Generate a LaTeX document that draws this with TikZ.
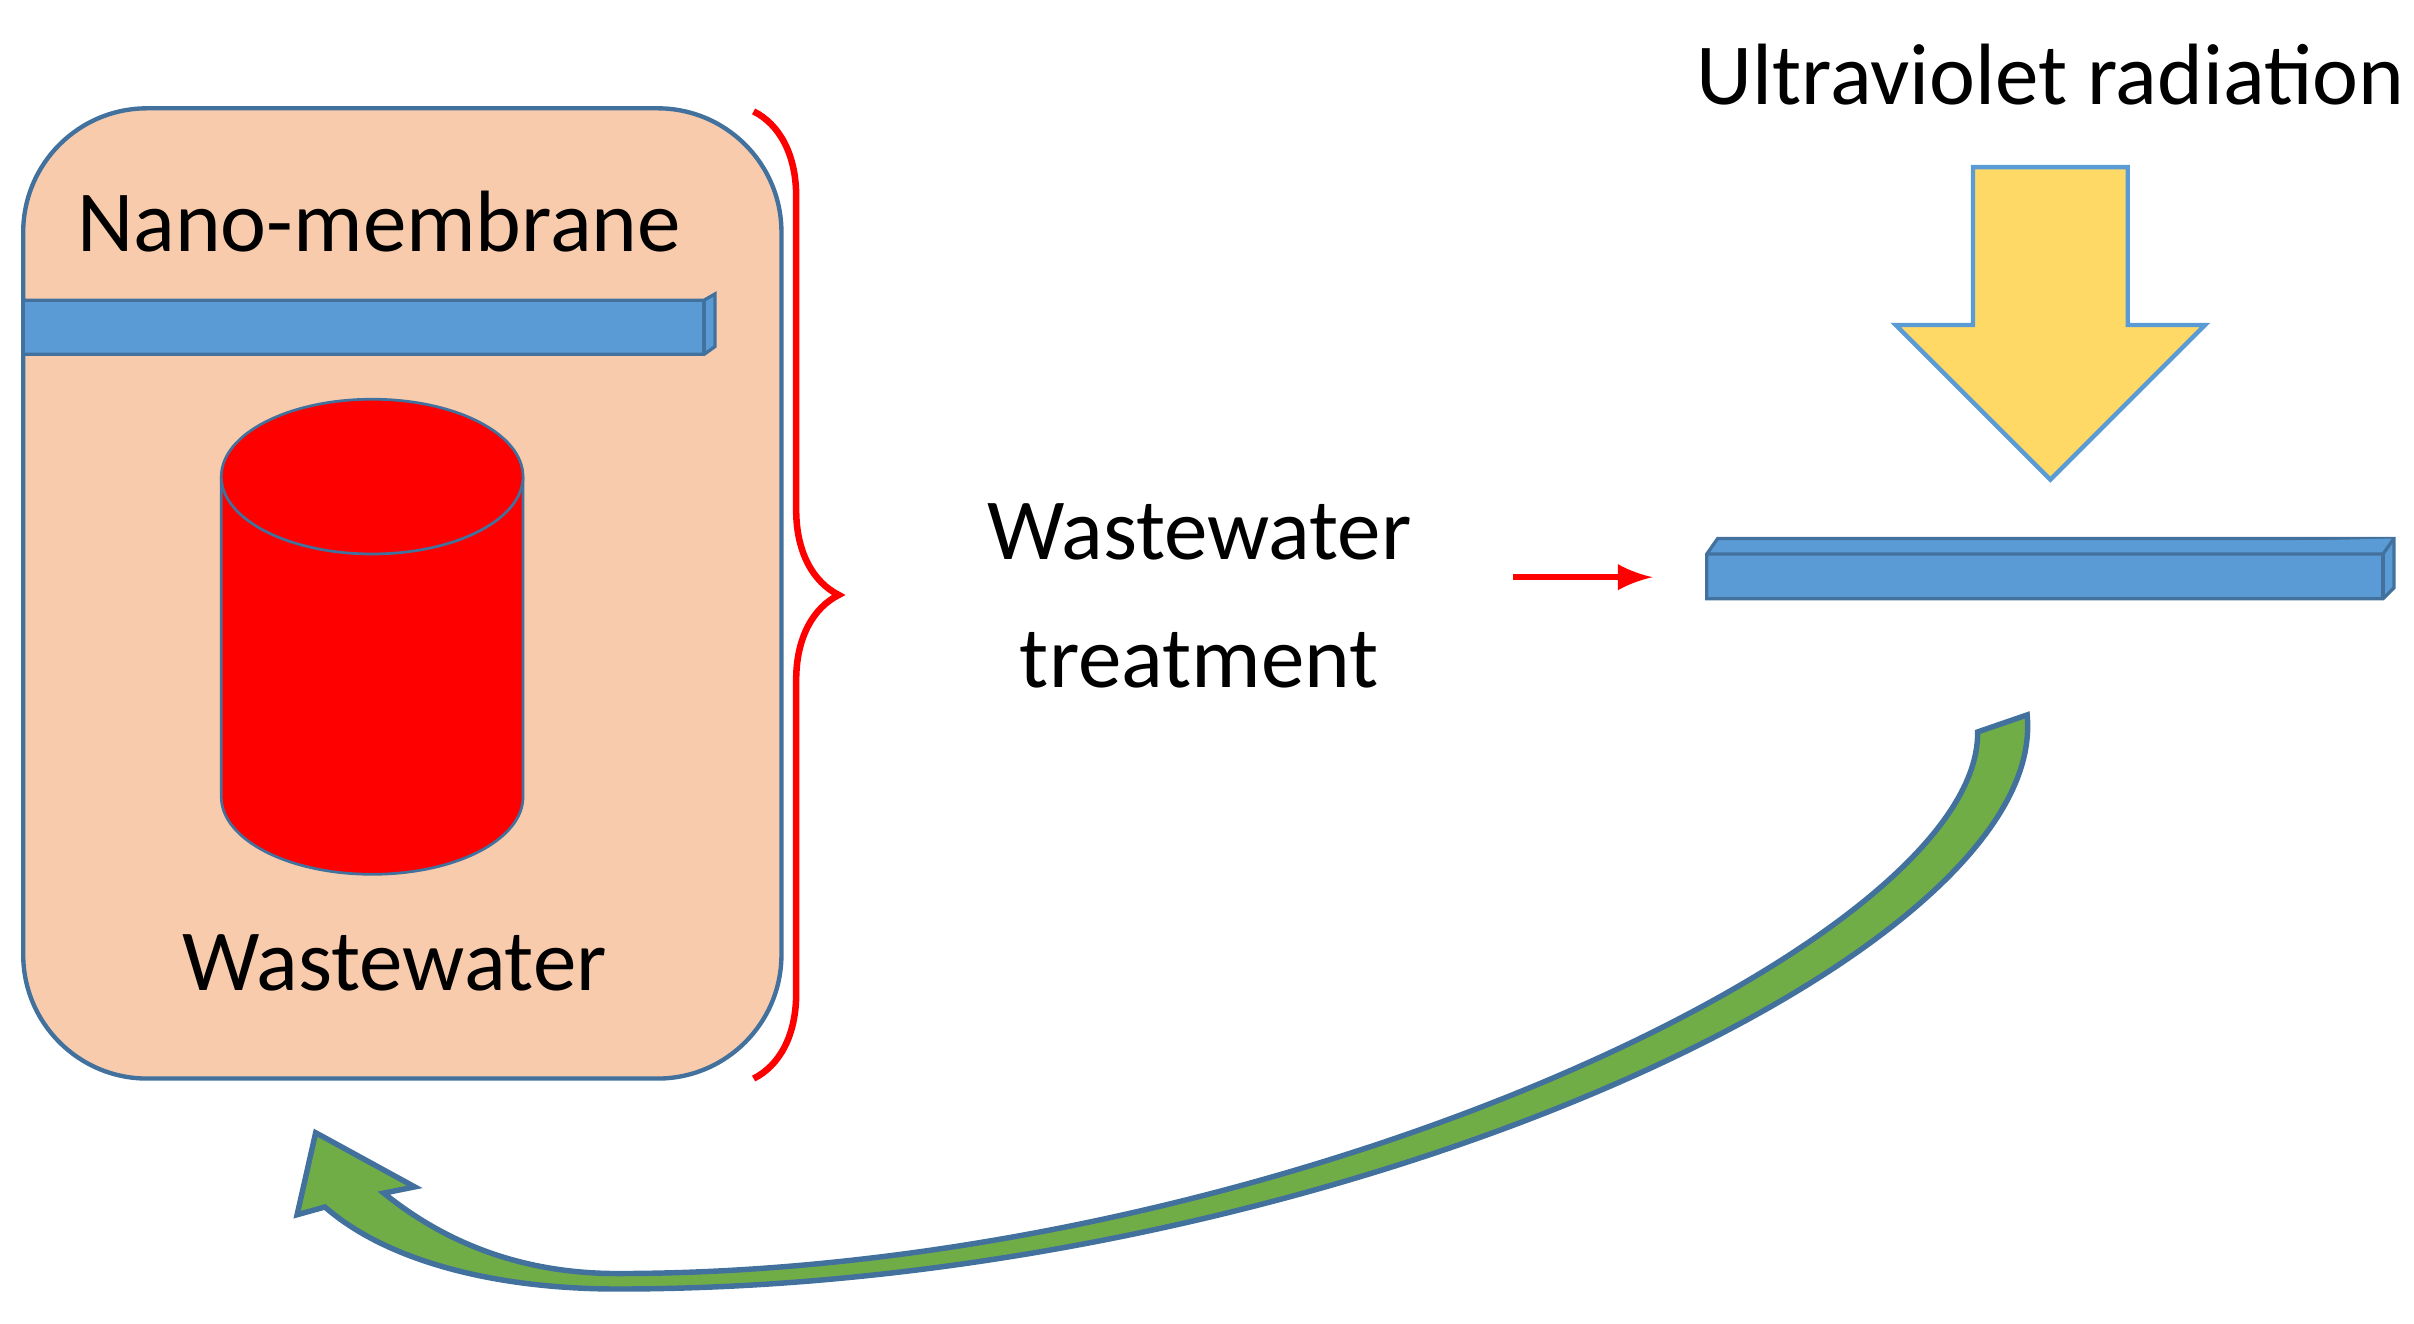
\documentclass[tikz,border=0pt]{standalone}
\usepackage{fontspec}
\setmainfont{Carlito}
\usetikzlibrary{shapes.geometric,decorations.pathreplacing}
\definecolor{peach}{HTML}{F8CBAD}
\definecolor{barblue}{HTML}{5B9BD5}
\definecolor{edgeblue}{HTML}{41719C}
\definecolor{uvyellow}{HTML}{FFD966}
\definecolor{loopgreen}{HTML}{70AD47}
\tikzset{
  lbl/.style={font=\fontsize{16}{23.6}\selectfont,align=center,inner sep=0pt},
  bar/.style={fill=barblue,draw=edgeblue,line width=0.6pt}
}
\begin{document}
\begin{tikzpicture}[x=0.01cm,y=-0.01cm]
  \useasboundingbox (0,0) rectangle (1560,855);
  % box with membrane and wastewater
  \draw[fill=peach,draw=edgeblue,line width=0.8pt,rounded corners=0.8cm] (15,70) rectangle (505,697);
  \draw[bar] (15,194) -- (455,194) -- (462,190) -- (462,224) -- (455,229) -- (15,229) -- cycle;
  \draw[bar] (455,194) -- (455,229);
  \node[lbl] (nm) at (245,143) {Nano-membrane};
  \draw[fill=red,draw=edgeblue,line width=0.5pt] (143,308) -- (143,515) arc[start angle=180,end angle=360,x radius=97.5,y radius=-50] -- (338,308);
  \draw[fill=red,draw=edgeblue,line width=0.5pt] (240.5,308) ellipse[x radius=97.5,y radius=50];
  \node[lbl] (ww) at (255,622) {Wastewater};
  % brace
  \draw[red,line width=1.2pt,decorate,decoration={brace,amplitude=0.55cm,aspect=0.5}] (487,72) -- (487,697);
  \node[lbl] (wt) at (775,385) {Wastewater\\treatment};
  \coordinate (ra) at (978,373);
  \coordinate (rb) at (1068,373);
  \draw[red,line width=1.2pt,-latex] (ra) -- (rb);
  % irradiated membrane
  \draw[bar] (1103,358) -- (1110,348) -- (1547,348) -- (1547,380) -- (1540,387) -- (1103,387) -- cycle;
  \draw[bar] (1103,358) -- (1540,358) -- (1547,348);
  \draw[bar] (1540,358) -- (1540,387);
  \node[lbl] (uv) at (1325,48) {Ultraviolet radiation};
  \draw[fill=uvyellow,draw=barblue,line width=0.8pt] (1275,108) -- (1375,108) -- (1375,210) -- (1425,210) -- (1325,310) -- (1225,210) -- (1275,210) -- cycle;
  % return arrow
  \draw[fill=loopgreen,draw=edgeblue,line width=1pt]
    (1310,462) .. controls (1325,620) and (850,833) .. (399,833)
    .. controls (320,833) and (250,815) .. (210,780)
    -- (192,785) -- (204,732) -- (268,767) -- (248,771)
    .. controls (290,805) and (340,823) .. (399,823)
    .. controls (820,823) and (1280,610) .. (1278,473) -- cycle;
\end{tikzpicture}
\end{document}
